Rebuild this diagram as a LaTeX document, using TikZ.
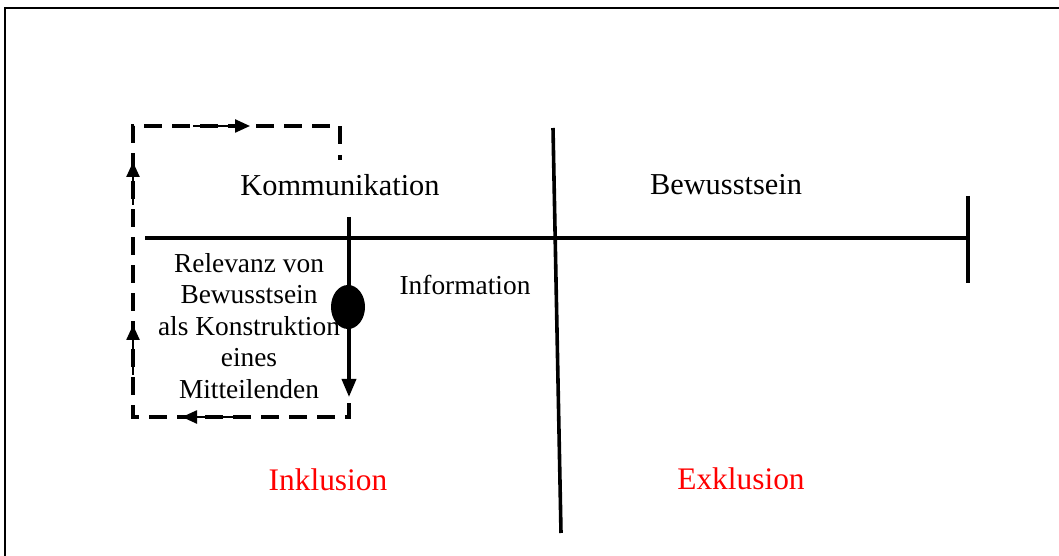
\documentclass[tikz,border=0pt]{standalone}
\usepackage{fontspec}
\setmainfont{Liberation Serif}
\usetikzlibrary{arrows.meta,shapes.geometric}
\begin{document}
\begin{tikzpicture}[x=1bp,y=-1bp,
  frame/.style={line width=2bp},
  axis/.style={line width=3.6bp},
  loopline/.style={line width=3.6bp, dash pattern=on 18bp off 10bp},
  flow/.style={line width=2.4bp,-{Triangle[length=15bp,width=13bp]}},
  downarrow/.style={line width=3.6bp,-{Triangle[length=18bp,width=14bp]}},
  lbl/.style={font=\fontsize{30.5}{36}\selectfont, inner sep=0},
  small/.style={font=\fontsize{27.5}{31.5}\selectfont, inner sep=0, align=center},
  zone/.style={font=\fontsize{31.5}{36}\selectfont, text=red, inner sep=0}]
\useasboundingbox (0,0) rectangle (1059,556);
\clip (0,0) rectangle (1059,556);

% outer frame (left and top edges)
\draw[frame] (5,600) -- (5,8) -- (1100,8);

% main axis with end tick
\coordinate (axL) at (145,238);
\coordinate (axR) at (968,238);
\coordinate (tickT) at (968,196);
\coordinate (tickB) at (968,283);
\draw[axis] (axL) -- (axR);
\draw[axis] (tickT) -- (tickB);

% dividing line
\coordinate (divT) at (553,128);
\coordinate (divB) at (561,533);
\draw[axis] (divT) -- (divB);

% labels
\node[lbl] (komm) at (340,185) {Kommunikation};
\node[lbl] (bew) at (726,185) {Bewusstsein};
\node[small] (info) at (465,285) {Information};
\node[small] (rel) at (249,326) {Relevanz von\\Bewusstsein\\als Konstruktion\\eines\\Mitteilenden};
\node[zone] (inkl) at (328,480) {Inklusion};
\node[zone] (exkl) at (741,479) {Exklusion};

% communication stroke with the utterance marker
\coordinate (kT) at (349,217);
\coordinate (kB) at (349,397);
\draw[downarrow] (kT) -- (kB);
\node[ellipse, fill=black, minimum width=34bp, minimum height=44bp, inner sep=0] (mark) at (348,307) {};

% dashed feedback loop
\coordinate (d1) at (349,403);
\coordinate (d2) at (349,417);
\coordinate (d3) at (133,417);
\coordinate (d4) at (133,126);
\coordinate (d5) at (340,126);
\coordinate (d6) at (340,146);
\coordinate (d7) at (340,155);
\coordinate (d8) at (340,160);
\draw[loopline] (d1) -- (d2) -- (d3) -- (d4) -- (d5) -- (d6);
\draw[axis] (d7) -- (d8);

% direction marks on the loop
\coordinate (b1) at (233,417); \coordinate (b2) at (182,417);
\coordinate (l1) at (133,375); \coordinate (l2) at (133,325);
\coordinate (u1) at (133,205); \coordinate (u2) at (133,162);
\coordinate (t1) at (193,126); \coordinate (t2) at (250,126);
\draw[flow] (b1) -- (b2);
\draw[flow] (l1) -- (l2);
\draw[flow] (u1) -- (u2);
\draw[flow] (t1) -- (t2);
\end{tikzpicture}
\end{document}
